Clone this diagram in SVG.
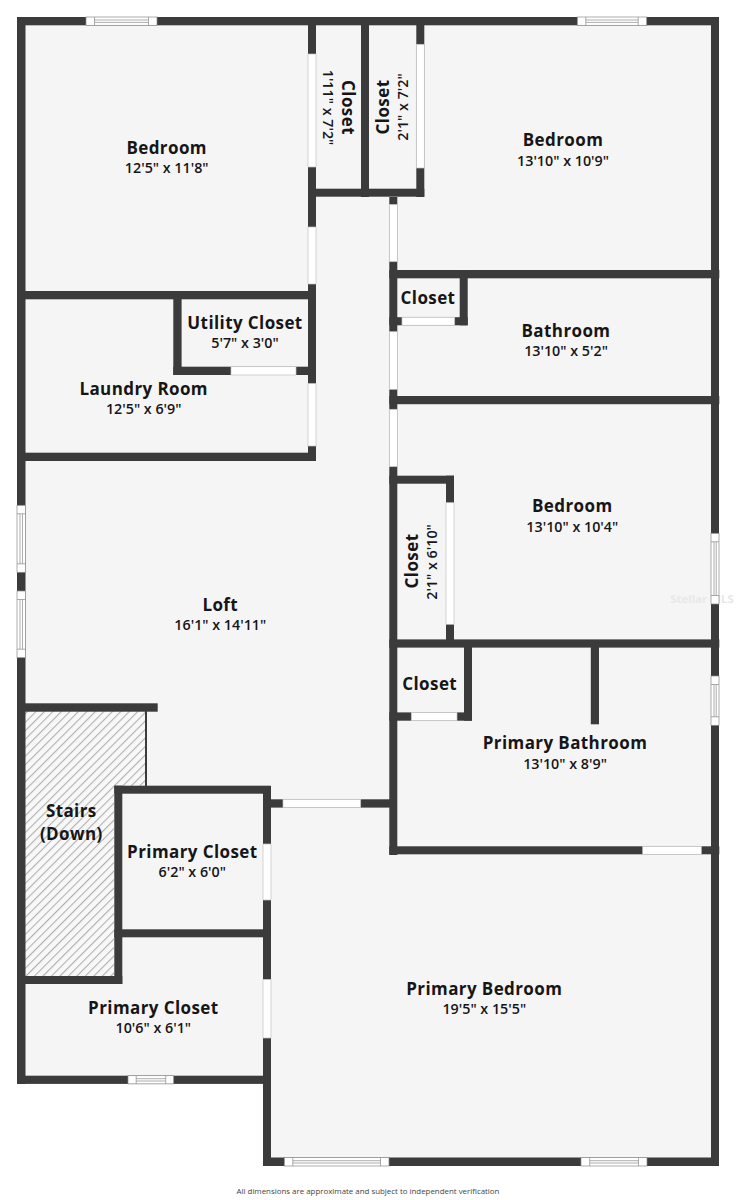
<svg xmlns="http://www.w3.org/2000/svg" width="736" height="1200" viewBox="0 0 736 1200">
<style>
.w{fill:#3b3b3b}
.d{fill:#fff;stroke:#c4c4c4;stroke-width:.7}
.win{fill:#fff;stroke:#8a8a8a;stroke-width:.7}
.l{stroke:#8a8a8a;stroke-width:.7;fill:none}
text{font-family:"Open Sans","Noto Sans","DejaVu Sans",sans-serif;fill:#161616;text-anchor:middle}
.t{font-size:17px;font-weight:700;letter-spacing:.4px}
.s{font-size:14.3px;font-weight:600}
</style>
<defs>
<pattern id="hatch" width="6" height="6" patternUnits="userSpaceOnUse" patternTransform="rotate(45)">
<rect width="6" height="6" fill="#f8f8f8"/>
<rect x="0" width="1.1" height="6" fill="#b0b0b0"/>
</pattern>
</defs>
<rect width="736" height="1200" fill="#fff"/>
<g id="floor">
<path d="M17 17H719V1166H263V1084H17Z" fill="#f6f5f6"/>
<path d="M25 711H146V786H114V976H25Z" fill="url(#hatch)"/>
<rect x="145" y="711" width="2" height="76" fill="#3b3b3b"/>
</g>
<text id="watermark" x="702" y="603" style="font-size:11.4px;font-weight:700;fill:#e8e8e8">Stellar MLS</text>
<g id="walls">
<rect class="w" x="17" y="17" width="702" height="8.3"/>
<rect class="w" x="17" y="17" width="8.5" height="1067"/>
<rect class="w" x="711" y="17" width="8" height="1149"/>
<rect class="w" x="263" y="1157.5" width="456" height="8.5"/>
<rect class="w" x="17" y="1075.7" width="254" height="8.2"/>
<rect class="w" x="263" y="786" width="8" height="380"/>
<rect class="w" x="308" y="17" width="8" height="282"/>
<rect class="w" x="361" y="17" width="8" height="180"/>
<rect class="w" x="416.3" y="17" width="8" height="180"/>
<rect class="w" x="308" y="188.7" width="116.3" height="8"/>
<rect class="w" x="389.3" y="197" width="8" height="658"/>
<rect class="w" x="389.3" y="270" width="330" height="8.3"/>
<rect class="w" x="459.7" y="270" width="8" height="55.3"/>
<rect class="w" x="389.3" y="317.2" width="78.4" height="8.1"/>
<rect class="w" x="389.3" y="396" width="330" height="8.2"/>
<rect class="w" x="389.3" y="475.7" width="64.7" height="8"/>
<rect class="w" x="446" y="475.7" width="8" height="168"/>
<rect class="w" x="389.3" y="639.4" width="330" height="8.2"/>
<rect class="w" x="464" y="640" width="8" height="80.7"/>
<rect class="w" x="389.3" y="712.4" width="82.7" height="8.3"/>
<rect class="w" x="590.8" y="640" width="8.2" height="84.3"/>
<rect class="w" x="389.3" y="846.3" width="330" height="8"/>
<rect class="w" x="17" y="291" width="299" height="8.3"/>
<rect class="w" x="173.3" y="291" width="8.3" height="84"/>
<rect class="w" x="173.3" y="366.7" width="142.7" height="8.3"/>
<rect class="w" x="308" y="291" width="8" height="170"/>
<rect class="w" x="17" y="452.7" width="299" height="8.3"/>
<rect class="w" x="17" y="703.3" width="140.7" height="8.4"/>
<rect class="w" x="114.3" y="785.7" width="8" height="198.3"/>
<rect class="w" x="114.3" y="785.7" width="156.4" height="8"/>
<rect class="w" x="114.3" y="929.3" width="156.4" height="8"/>
<rect class="w" x="17" y="976" width="105.3" height="8"/>
<rect class="w" x="263" y="799.3" width="134" height="8.3"/>
</g>
<g id="doors">
<rect class="d" x="308" y="54" width="8" height="113"/>
<rect class="d" x="308" y="227" width="8" height="57"/>
<rect class="d" x="416.3" y="44.3" width="8" height="123.7"/>
<rect class="d" x="389.3" y="204.5" width="8" height="57.2"/>
<rect class="d" x="402" y="317.2" width="52.7" height="8.1"/>
<rect class="d" x="389.3" y="331.7" width="8" height="57.6"/>
<rect class="d" x="389.3" y="409.3" width="8" height="57.4"/>
<rect class="d" x="446" y="502.7" width="8" height="121.6"/>
<rect class="d" x="411.3" y="712.4" width="45.7" height="8.3"/>
<rect class="d" x="642.7" y="846.3" width="58.6" height="8"/>
<rect class="d" x="231" y="366.7" width="65" height="8.3"/>
<rect class="d" x="308" y="383.5" width="8" height="62.5"/>
<rect class="d" x="283" y="799.3" width="77.7" height="8.3"/>
<rect class="d" x="263" y="844" width="8" height="56"/>
<rect class="d" x="263" y="979.4" width="8" height="58.6"/>
</g>
<g id="windows">
<g id="win-top-left"><rect class="win" x="86" y="17" width="71" height="8.3"/><path class="l" d="M94.5 17V25.3M148.5 17V25.3M94.5 20H148.5M94.5 22.4H148.5"/></g>
<g id="win-top-right"><rect class="win" x="577.3" y="17" width="69.4" height="8.3"/><path class="l" d="M585.8 17V25.3M638.2 17V25.3M585.8 20H638.2M585.8 22.4H638.2"/></g>
<g id="win-left-1"><rect class="win" x="17" y="505.3" width="8.5" height="67"/><path class="l" d="M17 513.8H25.5M17 563.8H25.5M20 513.8V563.8M22.5 513.8V563.8"/></g>
<g id="win-left-2"><rect class="win" x="17" y="591" width="8.5" height="66.7"/><path class="l" d="M17 599.5H25.5M17 649.2H25.5M20 599.5V649.2M22.5 599.5V649.2"/></g>
<g id="win-right-1"><rect class="win" x="711" y="533.3" width="8" height="70.7"/><path class="l" d="M711 541.8H719M711 595.5H719M714 541.8V595.5M716.2 541.8V595.5"/></g>
<g id="win-right-2"><rect class="win" x="711" y="676" width="8" height="49.3"/><path class="l" d="M711 684.5H719M711 716.8H719M714 684.5V716.8M716.2 684.5V716.8"/></g>
<g id="win-closet"><rect class="win" x="128" y="1075.7" width="45.7" height="8.2"/><path class="l" d="M136.2 1075.7V1083.9M165.7 1075.7V1083.9M136.2 1078.7H165.7M136.2 1081H165.7"/></g>
<g id="win-bottom-1"><rect class="win" x="284.3" y="1157.5" width="104.7" height="8.5"/><path class="l" d="M292.8 1157.5V1166M380.5 1157.5V1166M292.8 1160.7H380.5M292.8 1163H380.5"/></g>
<g id="win-bottom-2"><rect class="win" x="581" y="1157.5" width="66" height="8.5"/><path class="l" d="M589.7 1157.5V1166M638.5 1157.5V1166M589.7 1160.7H638.5M589.7 1163H638.5"/></g>
</g>
<g id="room-bedroom-1"><text class="t" x="166.7" y="153.7">Bedroom</text><text class="s" x="166.7" y="173.3">12'5" x 11'8"</text></g>
<g id="room-closet-1"><text class="t" transform="translate(342.3 107.5) rotate(90)">Closet</text><text class="s" transform="translate(322.7 107.5) rotate(90)">1'11" x 7'2"</text></g>
<g id="room-closet-2"><text class="t" transform="translate(388.7 107) rotate(-90)">Closet</text><text class="s" transform="translate(408 107) rotate(-90)">2'1" x 7'2"</text></g>
<g id="room-bedroom-2"><text class="t" x="563" y="145.7">Bedroom</text><text class="s" x="563" y="165.7">13'10" x 10'9"</text></g>
<g id="room-closet-3"><text class="t" x="428" y="304.3">Closet</text></g>
<g id="room-bathroom"><text class="t" x="566" y="336.7">Bathroom</text><text class="s" x="566" y="356">13'10" x 5'2"</text></g>
<g id="room-utility"><text class="t" x="245" y="329.3">Utility Closet</text><text class="s" x="245" y="348.3">5'7" x 3'0"</text></g>
<g id="room-laundry"><text class="t" x="143.7" y="395">Laundry Room</text><text class="s" x="143.7" y="414">12'5" x 6'9"</text></g>
<g id="room-bedroom-3"><text class="t" x="572.3" y="512.3">Bedroom</text><text class="s" x="572.3" y="532">13'10" x 10'4"</text></g>
<g id="room-closet-4"><text class="t" transform="translate(418 561) rotate(-90)">Closet</text><text class="s" transform="translate(437 562) rotate(-90)">2'1" x 6'10"</text></g>
<g id="room-loft"><text class="t" x="220.3" y="610.7">Loft</text><text class="s" x="220.3" y="630">16'1" x 14'11"</text></g>
<g id="room-stairs"><text class="t" x="71.3" y="816.7">Stairs</text><text class="t" x="71.3" y="840">(Down)</text></g>
<g id="room-primary-closet-1"><text class="t" x="192.3" y="858.3">Primary Closet</text><text class="s" x="192.3" y="877.3">6'2" x 6'0"</text></g>
<g id="room-closet-5"><text class="t" x="429.7" y="690.3">Closet</text></g>
<g id="room-primary-bathroom"><text class="t" x="565" y="749.3">Primary Bathroom</text><text class="s" x="565" y="768.7">13'10" x 8'9"</text></g>
<g id="room-primary-closet-2"><text class="t" x="153.3" y="1014.3">Primary Closet</text><text class="s" x="153.3" y="1033.3">10'6" x 6'1"</text></g>
<g id="room-primary-bedroom"><text class="t" x="484.3" y="995">Primary Bedroom</text><text class="s" x="484.3" y="1014.3">19'5" x 15'5"</text></g>
<text id="footer" x="368" y="1194" style="font-size:7.9px;fill:#444">All dimensions are approximate and subject to independent verification</text>
</svg>
